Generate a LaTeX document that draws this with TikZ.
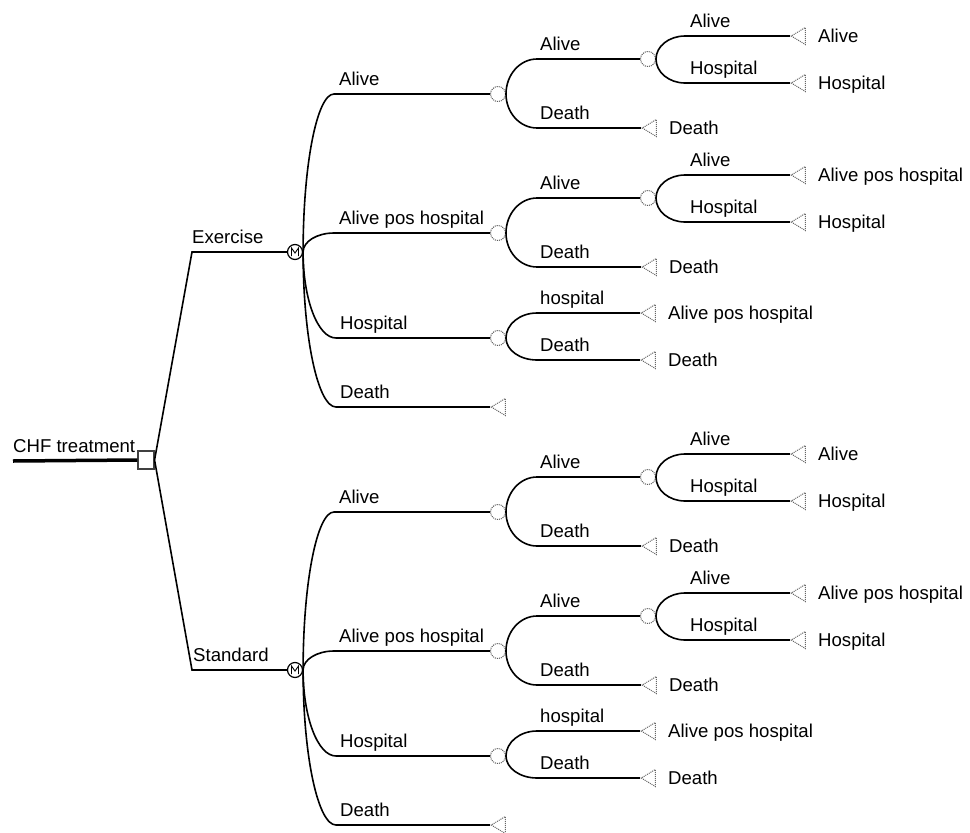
\documentclass[tikz,border=0pt]{standalone}
\usepackage{fontspec}
\setmainfont{Liberation Sans}
\usetikzlibrary{shapes.geometric,calc}
\tikzset{
  br/.style={line width=1.6pt, black},
  ebranch/.style={to path={.. controls ($(\tikztostart)!0.552!(\tikztostart |- \tikztotarget)$) and ($(\tikztotarget)!0.552!(\tikztostart |- \tikztotarget)$) .. (\tikztotarget)}},
  chance/.style={circle, draw=black!65, densely dotted, line width=1pt, minimum size=15pt, inner sep=0pt},
  markov/.style={circle, draw=black, line width=1.2pt, minimum size=15pt, inner sep=0pt},
  decision/.style={rectangle, draw=black!75, line width=1.1pt, minimum width=16pt, minimum height=18pt, inner sep=0pt, fill=white},
  term/.style={isosceles triangle, shape border rotate=180, isosceles triangle stretches, minimum height=14pt, minimum width=17pt, inner sep=0pt, draw=black!60, densely dotted, line width=1pt},
  lbl/.style={anchor=base west, inner sep=0pt, font=\fontsize{18.6}{20}\selectfont},
}
\newcommand\mysubtree[2]{%
\begin{scope}[shift={(0,#2)}]
  % Markov node
  \node[markov] (#1m) at (295,252) {};
  \draw[line width=0.9pt] ($(#1m.center)+(-3.5,4)$) -- ++(0,-8) -- ++(3.5,5) -- ++(3.5,-5) -- ++(0,8);
  % level 1
  \coordinate (#1a1) at (334,94);
  \coordinate (#1a2) at (334,233);
  \coordinate (#1a3) at (336,338);
  \coordinate (#1a4) at (336,407);
  \node[chance] (#1c1) at (498,94) {};
  \node[chance] (#1c2) at (498,233) {};
  \node[chance] (#1c3) at (498,338) {};
  \node[term, anchor=apex] (#1t4) at (490,407) {};
  \draw[br] (#1m.east) to[ebranch] (#1a1) -- (#1c1.west);
  \draw[br] (#1m.east) to[ebranch] (#1a2) -- (#1c2.west);
  \draw[br] (#1m.east) to[ebranch] (#1a3) -- (#1c3.west);
  \draw[br] (#1m.east) to[ebranch] (#1a4) -- (#1t4.apex);
  \node[lbl] (#1la1) at (339,85) {Alive};
  \node[lbl] (#1la2) at (339,224) {Alive pos hospital};
  \node[lbl] (#1la3) at (340,329) {Hospital};
  \node[lbl] (#1la4) at (340,398) {Death};
  % level 2
  \coordinate (#1b11) at (537,59);
  \coordinate (#1b12) at (537,128);
  \coordinate (#1b21) at (537,198);
  \coordinate (#1b22) at (537,267);
  \coordinate (#1b31) at (537,313);
  \coordinate (#1b32) at (537,360);
  \node[chance] (#1c11) at (648,59) {};
  \node[chance] (#1c21) at (648,198) {};
  \node[term, anchor=apex] (#1t12) at (641,128) {};
  \node[term, anchor=apex] (#1t22) at (641,267) {};
  \node[term, anchor=apex] (#1t31) at (640,313) {};
  \node[term, anchor=apex] (#1t32) at (640,360) {};
  \draw[br] (#1c1.east) to[ebranch] (#1b11) -- (#1c11.west);
  \draw[br] (#1c1.east) to[ebranch] (#1b12) -- (#1t12.apex);
  \draw[br] (#1c2.east) to[ebranch] (#1b21) -- (#1c21.west);
  \draw[br] (#1c2.east) to[ebranch] (#1b22) -- (#1t22.apex);
  \draw[br] (#1c3.east) to[ebranch] (#1b31) -- (#1t31.apex);
  \draw[br] (#1c3.east) to[ebranch] (#1b32) -- (#1t32.apex);
  \node[lbl] (#1lb11) at (540,50) {Alive};
  \node[lbl] (#1lb12) at (540,119) {Death};
  \node[lbl] (#1lb21) at (540,189) {Alive};
  \node[lbl] (#1lb22) at (540,258) {Death};
  \node[lbl] (#1lb31) at (540,304) {hospital};
  \node[lbl] (#1lb32) at (540,351) {Death};
  \node[lbl] (#1e12) at (669,134.5) {Death};
  \node[lbl] (#1e22) at (669,273.5) {Death};
  \node[lbl] (#1e31) at (668,319.5) {Alive pos hospital};
  \node[lbl] (#1e32) at (668,366.5) {Death};
  % level 3
  \coordinate (#1d111) at (685,36);
  \coordinate (#1d112) at (685,83);
  \coordinate (#1d211) at (685,175);
  \coordinate (#1d212) at (685,222);
  \node[term, anchor=apex] (#1t111) at (790,36) {};
  \node[term, anchor=apex] (#1t112) at (790,83) {};
  \node[term, anchor=apex] (#1t211) at (790,175) {};
  \node[term, anchor=apex] (#1t212) at (790,222) {};
  \draw[br] (#1c11.east) to[ebranch] (#1d111) -- (#1t111.apex);
  \draw[br] (#1c11.east) to[ebranch] (#1d112) -- (#1t112.apex);
  \draw[br] (#1c21.east) to[ebranch] (#1d211) -- (#1t211.apex);
  \draw[br] (#1c21.east) to[ebranch] (#1d212) -- (#1t212.apex);
  \node[lbl] (#1ld111) at (690,27) {Alive};
  \node[lbl] (#1ld112) at (690,74) {Hospital};
  \node[lbl] (#1ld211) at (690,166) {Alive};
  \node[lbl] (#1ld212) at (690,213) {Hospital};
  \node[lbl] (#1e111) at (818,42.5) {Alive};
  \node[lbl] (#1e112) at (818,89.5) {Hospital};
  \node[lbl] (#1e211) at (818,181.5) {Alive pos hospital};
  \node[lbl] (#1e212) at (818,228.5) {Hospital};
\end{scope}}
\begin{document}
\begin{tikzpicture}[x=1pt,y=-1pt]
  \useasboundingbox (0,0) rectangle (970,833);
  \mysubtree{E}{0}
  \mysubtree{S}{418}
  \node[decision] (d) at (146,460) {};
  \coordinate (root) at (13,461);
  \coordinate (ex) at (192,252);
  \coordinate (st) at (192,670);
  \draw[line width=3.5pt] (root) -- (d.west);
  \draw[br] (d.east) -- (ex) -- (Em.west);
  \draw[br] (d.east) -- (st) -- (Sm.west);
  \node[lbl] (lroot) at (13,452) {CHF treatment};
  \node[lbl] (lex) at (192,243) {Exercise};
  \node[lbl] (lst) at (193,661) {Standard};
\end{tikzpicture}
\end{document}
